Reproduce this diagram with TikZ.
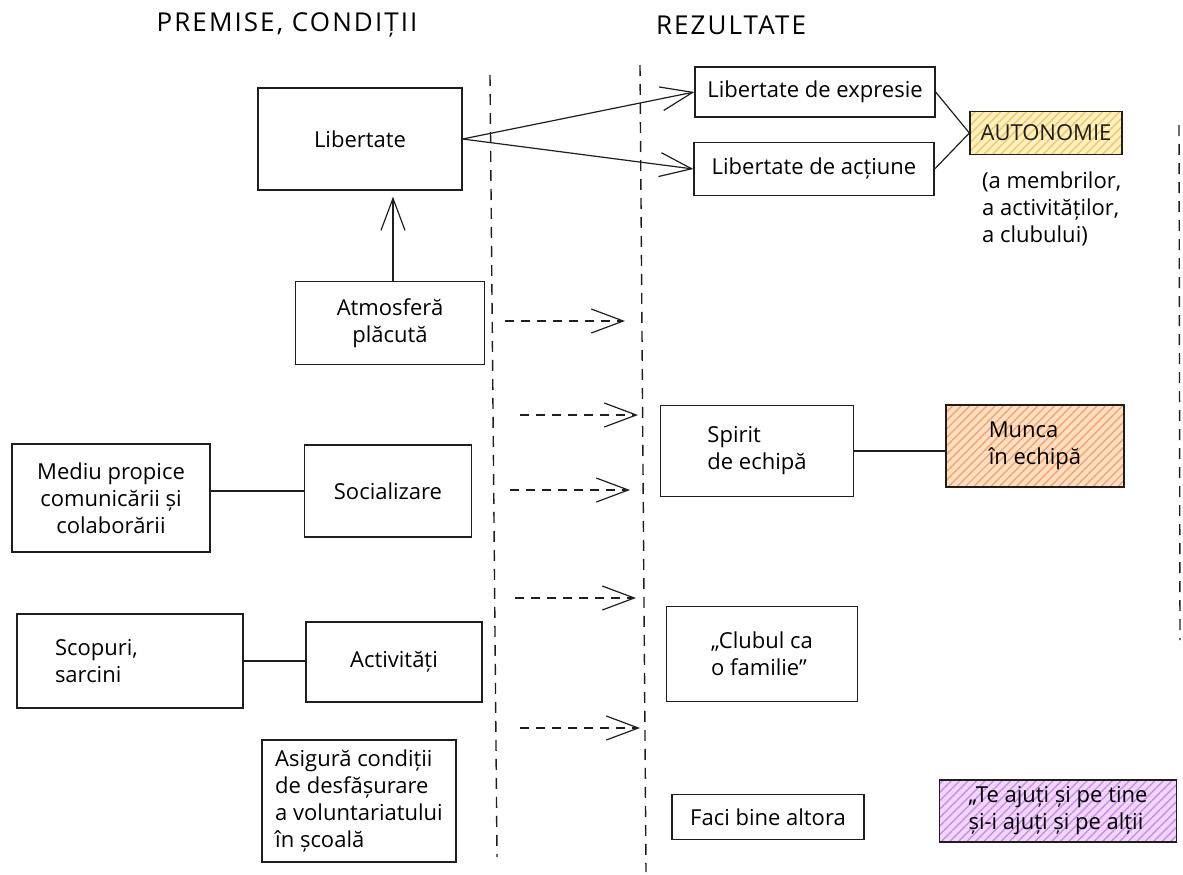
\documentclass[tikz,border=0pt]{standalone}
\usepackage{fontspec}
\setmainfont{Open Sans}
\usetikzlibrary{arrows.meta, patterns.meta, positioning}
\definecolor{inkgray}{RGB}{30,30,30}
\definecolor{autofill}{RGB}{255,240,190}
\definecolor{autohatch}{RGB}{240,200,110}
\definecolor{muncafill}{RGB}{255,222,195}
\definecolor{muncahatch}{RGB}{244,165,110}
\definecolor{lilacfill}{RGB}{240,215,250}
\definecolor{lilachatch}{RGB}{205,140,235}
\newcommand{\boxfont}{\fontsize{22}{27}\selectfont}
\newcommand{\headfont}{\fontsize{26}{30}\selectfont\addfontfeature{LetterSpace=8}}

\begin{document}
\begin{tikzpicture}[x=1pt, y=-1pt,
  box/.style={draw=inkgray, line width=1.3pt, font=\boxfont, align=center, inner sep=0pt},
  hatchbox/.style={box, preaction={draw=none, fill=#1fill}, preaction={draw=none, pattern={Lines[angle=45,distance=6pt,line width=1.4pt]}, pattern color=#1hatch}},
  openarrow/.style={draw=inkgray, line width=1.2pt, -{Straight Barb[length=32pt,width=24pt,line width=1.2pt]}},
  dasharrow/.style={openarrow, dash pattern=on 9pt off 7pt},
  link/.style={draw=inkgray, line width=1.2pt},
  sepline/.style={draw=inkgray, line width=1.4pt, dash pattern=on 11pt off 8pt}]
  \useasboundingbox (0,0) rectangle (1183,875);

  % headings
  \node[font=\headfont] (tprem) at (287,25) {PREMISE, CONDIȚII};
  \node[font=\headfont] (trez) at (731,25) {REZULTATE};

  % column separators
  \draw[sepline] (490,75) -- (497,857);
  \draw[sepline] (640,65) -- (646,872);
  \draw[sepline] (1179,125) -- (1180,640);

  % premises
  \node[box, minimum width=204pt, minimum height=102pt] (lib) at (360,139) {Libertate};
  \node[box, minimum width=189pt, minimum height=83pt] (atm) at (390,323) {Atmosferă\\plăcută};
  \node[box, minimum width=198pt, minimum height=108pt] (mediu) at (111,498) {Mediu propice\\comunicării și\\colaborării};
  \node[box, minimum width=167pt, minimum height=92pt] (soc) at (388,491) {Socializare};
  \node[box, text width=150pt, inner xsep=38pt, align=left, minimum height=94pt] (scop) at (130,661) {Scopuri,\\sarcini};
  \node[box, minimum width=176pt, minimum height=80pt] (activ) at (394,662) {Activități};
  \node[box, align=left, minimum width=194pt, minimum height=122pt] (asig) at (359,801) {Asigură condiții\\de desfășurare\\a voluntariatului\\ în școală};

  % results
  \node[box, minimum width=240pt, minimum height=50pt] (libexp) at (815,92) {Libertate de expresie};
  \node[box, minimum width=240pt, minimum height=53pt] (libact) at (814,169) {Libertate de acțiune};
  \node[hatchbox=auto, minimum width=152pt, minimum height=43pt, text=inkgray] (auton) at (1046,133) {AUTONOMIE};
  \node[font=\boxfont, align=left, anchor=north west, inner sep=0pt] (autonote) at (982,172) {(a membrilor,\\a activităților,\\a clubului)};
  \node[box, align=left, minimum width=193pt, minimum height=91pt] (spirit) at (757,451) {Spirit\\de echipă};
  \node[hatchbox=munca, align=left, minimum width=178pt, minimum height=82pt] (munca) at (1035,446) {Munca\\în echipă};
  \node[box, align=left, minimum width=191pt, minimum height=95pt] (club) at (762,654) {„Clubul ca\\o familie”};
  \node[box, minimum width=192pt, minimum height=45pt] (faci) at (768,817) {Faci bine altora};
  \node[hatchbox=lilac, align=left, minimum width=237pt, minimum height=62pt] (teaj) at (1058,811) {„Te ajuți și pe tine\\și-i ajuți și pe alții};

  % connectors
  \draw[openarrow, shorten >=6pt] (atm.north -| 393,0) -- (lib.south -| 393,0);
  \draw[openarrow] (lib.east) -- (libexp.west);
  \draw[openarrow] (lib.east) -- (libact.west);
  \draw[link] (libexp.east) -- (auton.west);
  \draw[link] (libact.east) -- (auton.west);
  \draw[link] (soc.west -| mediu.east) -- (soc.west);
  \draw[link] (scop.east) -- (scop.east -| activ.west);
  \draw[link] (spirit.east) -- (spirit.east -| munca.west);

  % dashed arrows across the gap
  \foreach \n/\y/\xa/\xb in {1/321/505/625, 2/415/520/638, 3/490/510/630, 4/598/515/636, 5/728/520/640}{
    \coordinate (ds\n) at (\xa,\y);
    \coordinate (de\n) at (\xb,\y);
    \draw[dasharrow] (ds\n) -- (de\n);
  }
\end{tikzpicture}
\end{document}
